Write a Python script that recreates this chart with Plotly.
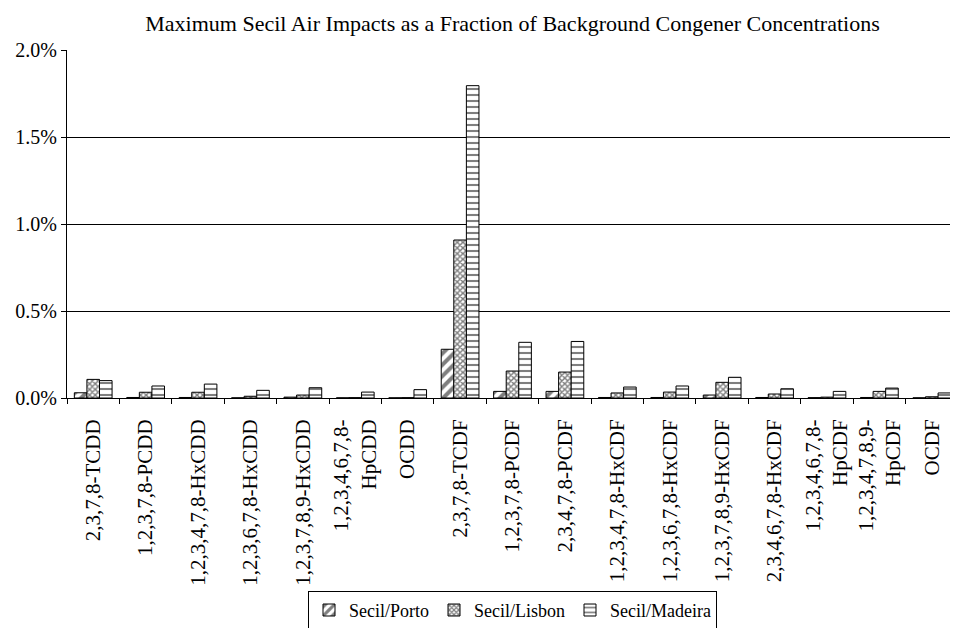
import plotly.graph_objects as go

categories = [
    "2,3,7,8-TCDD", "1,2,3,7,8-PCDD", "1,2,3,4,7,8-HxCDD", "1,2,3,6,7,8-HxCDD",
    "1,2,3,7,8,9-HxCDD", "1,2,3,4,6,7,8-<br>HpCDD", "OCDD", "2,3,7,8-TCDF",
    "1,2,3,7,8-PCDF", "2,3,4,7,8-PCDF", "1,2,3,4,7,8-HxCDF", "1,2,3,6,7,8-HxCDF",
    "1,2,3,7,8,9-HxCDF", "2,3,4,6,7,8-HxCDF", "1,2,3,4,6,7,8-<br>HpCDF",
    "1,2,3,4,7,8,9-<br>HpCDF", "OCDF",
]
porto = [0.030, 0.003, 0.003, 0.001, 0.005, 0.001, 0.001, 0.280, 0.038, 0.038,
         0.003, 0.003, 0.017, 0.003, 0.002, 0.003, 0.001]
lisbon = [0.107, 0.033, 0.033, 0.010, 0.017, 0.002, 0.002, 0.908, 0.155, 0.149,
          0.029, 0.034, 0.090, 0.023, 0.005, 0.038, 0.007]
madeira = [0.100, 0.069, 0.080, 0.044, 0.059, 0.034, 0.048, 1.795, 0.320, 0.325,
           0.063, 0.069, 0.119, 0.053, 0.038, 0.057, 0.029]
y_ticks = [0.0, 0.5, 1.0, 1.5, 2.0]
y_labels = ["0.0%", "0.5%", "1.0%", "1.5%", "2.0%"]

series = [
    ("Secil/Porto", porto, dict(shape="/", size=8, solidity=0.5)),
    ("Secil/Lisbon", lisbon, dict(shape="x", size=4, solidity=0.6)),
    ("Secil/Madeira", madeira, dict(shape="-", size=6, solidity=0.35)),
]

fig = go.Figure()
for name, vals, pat in series:
    fig.add_trace(go.Bar(
        x=categories, y=vals, name=name,
        marker=dict(color="white", line=dict(color="black", width=1),
                    pattern=dict(fgcolor="black", bgcolor="white", **pat)),
    ))

font = "Liberation Serif, Times New Roman, serif"
fig.update_layout(
    width=950, height=620,
    margin=dict(l=59, r=0, t=42, b=230, autoexpand=False),
    paper_bgcolor="white", plot_bgcolor="white",
    barmode="group", bargap=0.28, bargroupgap=0,
    font=dict(family=font, color="black", size=20),
    title=dict(text="Maximum Secil Air Impacts as a Fraction of Background Congener Concentrations",
               xref="paper", x=0.5, xanchor="center", y=0.975, yanchor="middle",
               font=dict(family=font, size=22, color="black")),
    legend=dict(orientation="h", x=0.5, xanchor="center", y=0.06, yanchor="top",
                yref="container", bordercolor="black", borderwidth=1,
                font=dict(size=18), traceorder="normal"),
    xaxis=dict(tickangle=-90, showline=True, linecolor="black", linewidth=1,
               ticks="outside", tickson="boundaries", ticklen=5, tickcolor="black",
               tickfont=dict(size=21), showgrid=False, automargin=False,
               ticklabelstandoff=12),
    yaxis=dict(range=[0, 2.0], tickvals=y_ticks, ticktext=y_labels,
               showline=True, linecolor="black", linewidth=1,
               ticks="outside", ticklen=5, tickcolor="black",
               showgrid=True, gridcolor="black", gridwidth=1,
               zeroline=False, tickfont=dict(size=20), automargin=False),
)
fig.write_html("out.html")
